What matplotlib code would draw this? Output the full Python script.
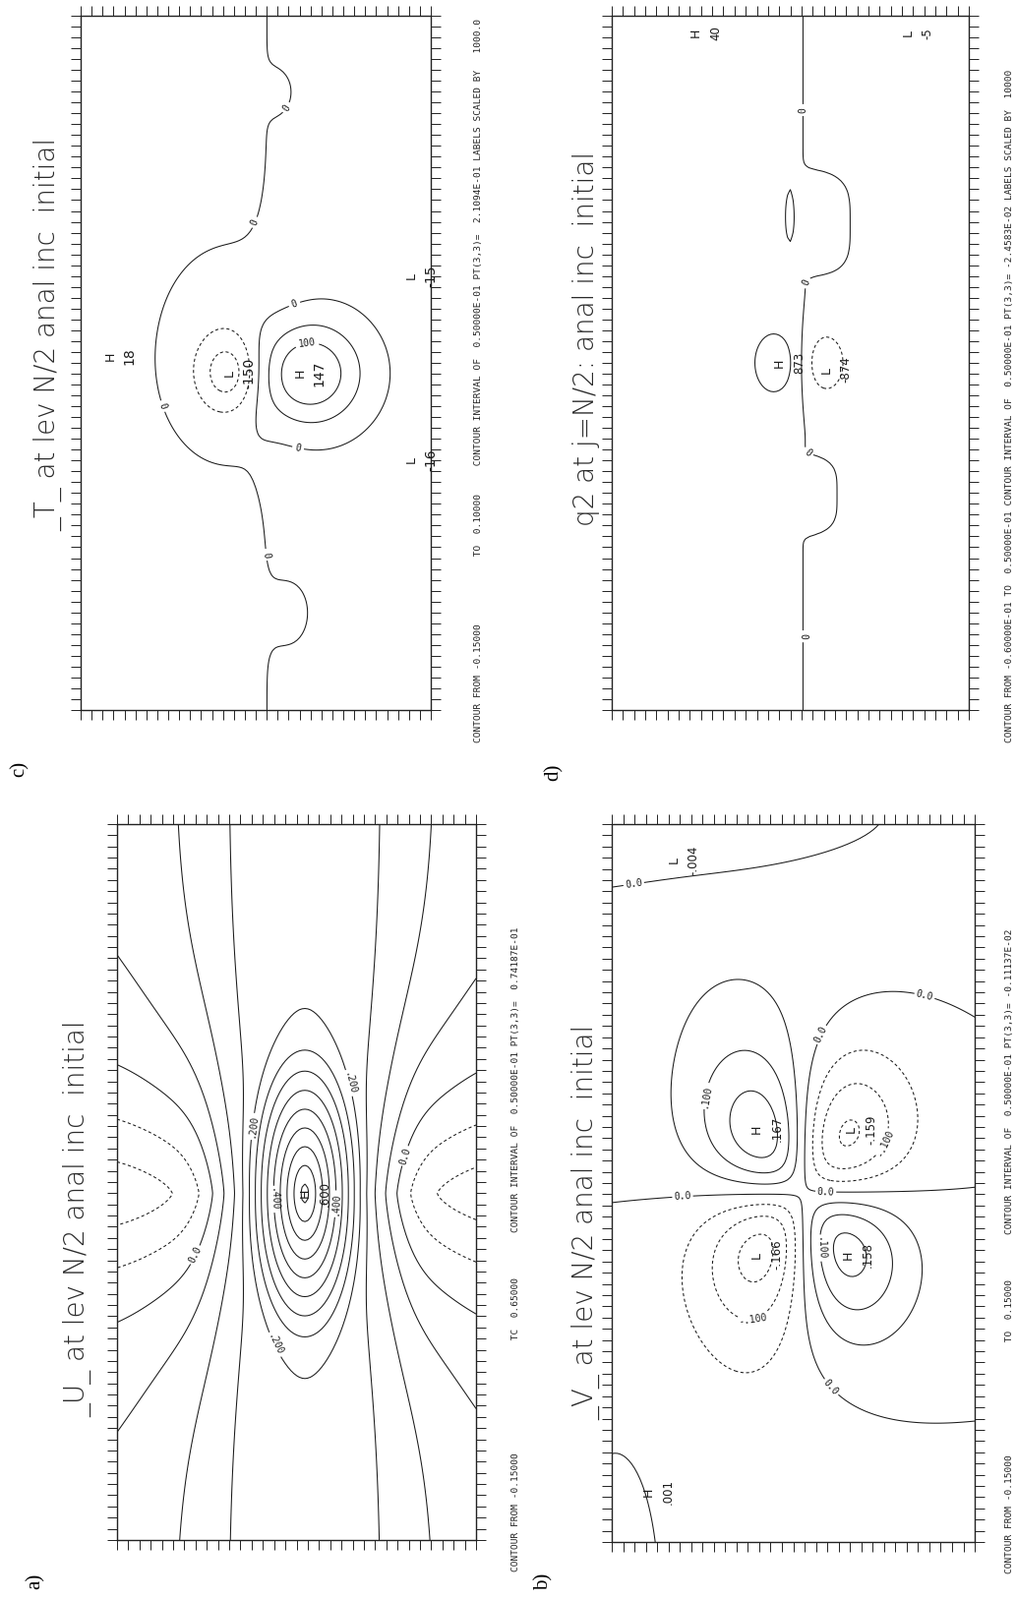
import numpy as np
import matplotlib
matplotlib.use("Agg")
import matplotlib.pyplot as plt

plt.rcParams['contour.negative_linestyle'] = 'dashed'
plt.rcParams['lines.dashed_pattern'] = [3.0, 2.5]

# ---------------- data (axes units: x right, y up) ----------------

# a) U
u_levels = np.round(np.arange(-0.15, 0.651, 0.05), 3)
u_base = [0.055, 0.14, 0.34]                 # edge value, rise at centre, width
u_jet = [0.523, 0.484, 0.43, 0.175, 0.225]   # x, y, peak, half width x, half width y
u_trough = [0.2, 0.17, 0.25]                 # depth, width in y, notch width in x
u_marks = [("H", ".600", 0.523, 0.484)]
u_lab_levels = [0.0, 0.2, 0.4]

# b) V
v_levels = np.round(np.arange(-0.15, 0.151, 0.05), 3)
v_quad = [0.527, 0.486, 0.167, 0.127, 0.086, 1.3]   # x, y, amp, sx, sy, decay power
v_blobs = [(0.03, 0.50, 0.80, 0.38, 0.25),
           (0.015, 0.25, 0.72, 0.18, 0.15),
           (-0.025, 0.45, 0.12, 0.35, 0.20),
           (-0.05, 0.30, 1.00, 0.35, 0.07),
           (0.016, 0.04, 0.00, 0.09, 0.13)]
v_marks = [("H", ".167", 0.40, 0.575), ("L", "-.159", 0.66, 0.575),
           ("L", "-.166", 0.40, 0.40), ("H", ".158", 0.65, 0.40),
           ("L", "-.004", 0.17, 0.95), ("H", ".001", 0.10, 0.07)]
v_lab_levels = [-0.1, 0.0, 0.1]

# c) T
t_levels = np.round(np.arange(-0.15, 0.101, 0.05), 3)
t_step = [0.0165, 0.532, 0.06]               # amplitude, x of zero line, width
t_blobs = [(-0.115, 0.425, 0.485, 0.09, 0.055),
           (-0.05, 0.425, 0.51, 0.20, 0.15),
           (0.18, 0.645, 0.485, 0.155, 0.076),
           (0.03, 0.565, 0.89, 0.04, 0.03),
           (0.03, 0.60, 0.14, 0.06, 0.05)]
t_marks = [("H", "18", 0.085, 0.51), ("L", "-150", 0.425, 0.485),
           ("H", "147", 0.627, 0.485), ("L", "-15", 0.945, 0.625),
           ("L", "-16", 0.945, 0.36)]
t_lab_levels = [0.0, 0.1]

# d) q2
q_levels = [-0.05, 0.0, 0.05]
q_base = [0.0046, 0.25, 0.2, -0.0006]
q_steps = [(0.0045, 0.58, 0.70, 0.06, 0.06),       # flat-topped bumps on the zero line
           (0.0035, 0.56, 0.31, 0.05, 0.045)]
q_blobs = [(-0.003, 0.50, 0.71, 0.012, 0.035),
           (0.0873, 0.455, 0.50, 0.07, 0.055),
           (-0.0874, 0.60, 0.50, 0.063, 0.05)]
q_marks = [("H", "873", 0.47, 0.50), ("L", "-874", 0.60, 0.49),
           ("H", "40", 0.236, 0.975), ("L", "-5", 0.83, 0.975)]
q_lab_levels = [0.0]

titles = {"a": "_U_ at lev N/2 anal inc  initial",
          "b": "_V_ at lev N/2 anal inc  initial",
          "c": "_T_ at lev N/2 anal inc  initial",
          "d": "q2 at j=N/2: anal inc  initial"}
footers = {
    "a": "CONTOUR FROM -0.15000" + " " * 20 + "TC  0.65000" + " " * 8
         + "CONTOUR INTERVAL OF  0.50000E-01 PT(3,3)=  0.74187E-01",
    "b": "CONTOUR FROM -0.15000" + " " * 20 + "TO  0.15000" + " " * 8
         + "CONTOUR INTERVAL OF  0.50000E-01 PT(3,3)= -0.11137E-02",
    "c": "CONTOUR FROM -0.15000" + " " * 12 + "TO  0.10000" + " " * 5
         + "CONTOUR INTERVAL OF  0.50000E-01 PT(3,3)=  2.1094E-01 LABELS SCALED BY   1000.0",
    "d": "CONTOUR FROM -0.60000E-01 TO  0.50000E-01 CONTOUR INTERVAL OF  0.50000E-01 "
         "PT(3,3)= -2.4583E-02 LABELS SCALED BY  10000",
}

# ---------------- layout (pixels of the 1033 x 1627 page) ----------------
W, H = 1033, 1627
boxes = {"c": (82, 16, 438, 722), "d": (622, 16, 985, 722),
         "a": (119, 838, 484, 1566), "b": (622, 838, 991, 1568)}
title_pos = {"c": (49, 540), "d": (596, 535), "a": (79, 1441), "b": (596, 1444)}
footer_pos = {"c": (486, 755), "d": (1026, 755), "a": (524, 1598), "b": (1026, 1600)}
tag_pos = {"c": (20, 782), "d": (563, 785), "a": (36, 1608), "b": (553, 1608)}

lab_pos = {
    "a": [(0.211, 0.40), (0.812, 0.535), (0.372, 0.578), (0.693, 0.644),
          (0.44, 0.273), (0.436, 0.476), (0.638, 0.469)],
    "b": [(0.195, 0.482), (0.545, 0.714), (0.59, 0.493), (0.9, 0.837),
          (0.073, 0.873), (0.636, 0.23), (0.2, 0.627), (0.76, 0.554),
          (0.405, 0.25), (0.595, 0.41)],
    "c": [(0.583, 0.869), (0.463, 0.71), (0.213, 0.434), (0.6, 0.6),
          (0.62, 0.375), (0.537, 0.224), (0.64, 0.55)],
    "d": [(0.52, 0.864), (0.52, 0.62), (0.52, 0.346), (0.52, 0.106)],
}

# ---------------- fields ----------------
gx = np.linspace(0, 1, 129)
gy = np.linspace(0, 1, 257)
X, Y = np.meshgrid(gx, gy)


def blob(a, cx, cy, sx, sy, py=2):
    return a * np.exp(-((X - cx) / sx) ** 2 - np.abs((Y - cy) / sy) ** py)


# U
dx = X - u_jet[0]
F = u_base[0] + u_base[1] * np.exp(-(dx / u_base[2]) ** 2)
rho = np.hypot(dx / u_jet[3], (Y - u_jet[1]) / u_jet[4])
J = u_jet[2] * np.log1p(np.exp((1 - rho) / 0.08)) / np.log1p(np.exp(1 / 0.08))
D = np.exp(-np.abs((Y - u_jet[1]) / u_trough[1]) ** 1.3)
S = 1 - np.exp(-(dx / u_trough[2]) ** 4)
U = F + J - u_trough[0] * D * S

# V
qu = (X - v_quad[0]) / v_quad[3]
qw = (Y - v_quad[1]) / v_quad[4]
raw = -qu * qw * np.exp(-np.hypot(qu, qw) ** v_quad[5])
V = v_quad[2] * raw / raw.max()
for b in v_blobs:
    V = V + blob(*b)

# T
T = t_step[0] * np.tanh((t_step[1] - X) / t_step[2])
for b in t_blobs:
    T = T + blob(*b)

# q2
Q = q_base[0] * np.exp(-((X - q_base[1]) / q_base[2]) ** 2) + q_base[3]
for b in q_steps:
    Q = Q + blob(*b, py=4)
for b in q_blobs:
    Q = Q + blob(*b)


def fmt_dec(v):
    if abs(v) < 1e-9:
        return "0.0"
    s = "%.3f" % v
    return s.replace("0.", ".", 1)


def fmt_1000(v):
    return "%d" % round(v * 1000)


def fmt_10000(v):
    return "%d" % round(v * 10000)


panels = {
    "a": (U, u_levels, u_lab_levels, fmt_dec, u_marks),
    "b": (V, v_levels, v_lab_levels, fmt_dec, v_marks),
    "c": (T, t_levels, t_lab_levels, fmt_1000, t_marks),
    "d": (Q, q_levels, q_lab_levels, fmt_10000, q_marks),
}

fig = plt.figure(figsize=(10.3305, 16.2705), dpi=100)

for key in ["a", "b", "c", "d"]:
    Z, levels, lab_levels, fmt, marks = panels[key]
    x0, y0, x1, y1 = boxes[key]
    ax = fig.add_axes([x0 / W, 1 - y1 / H, (x1 - x0) / W, (y1 - y0) / H])
    ax.set_xlim(0, 1)
    ax.set_ylim(0, 1)
    ax.set_xticks(np.linspace(0, 1, 33))
    ax.set_yticks(np.linspace(0, 1, 65))
    ax.tick_params(direction='out', length=7, width=0.7, top=True, right=True,
                   labelbottom=False, labelleft=False, colors='#222222')
    for sp in ax.spines.values():
        sp.set_linewidth(1.0)
        sp.set_color('#222222')

    plain = [l for l in levels if not np.any(np.isclose(l, lab_levels))]
    ax.contour(X, Y, Z, levels=plain, colors='#1a1a1a', linewidths=0.75)
    cs = ax.contour(X, Y, Z, levels=lab_levels, colors='#1a1a1a', linewidths=0.75)
    txts = ax.clabel(cs, fmt=fmt, fontsize=7, inline=True,
                     inline_spacing=3, manual=lab_pos[key])
    for t in txts:
        t.set_fontfamily('DejaVu Sans Mono')

    big = 10 if key == "c" else 8.5
    for letter, val, mx, my in marks:
        ax.text(mx, my, letter, rotation=90, ha='center', va='center',
                fontsize=9, color='#1a1a1a')
        ax.text(mx + 0.055, my, val, rotation=90, ha='center', va='center',
                fontsize=big, color='#1a1a1a')

    tx, ty = title_pos[key]
    fig.text(tx / W, 1 - ty / H, titles[key], rotation=90, ha='center', va='bottom',
             fontsize=20, fontweight='light', color='#2a2a2a')
    fx, fy = footer_pos[key]
    fig.text(fx / W, 1 - fy / H, footers[key], rotation=90, ha='center', va='bottom',
             fontsize=6.8, family='DejaVu Sans Mono', color='#222222')
    gx_, gy_ = tag_pos[key]
    fig.text(gx_ / W, 1 - gy_ / H, key + ")", rotation=90, ha='center', va='center',
             fontsize=15, family='Liberation Serif')

fig.savefig("out.png", dpi=100)
